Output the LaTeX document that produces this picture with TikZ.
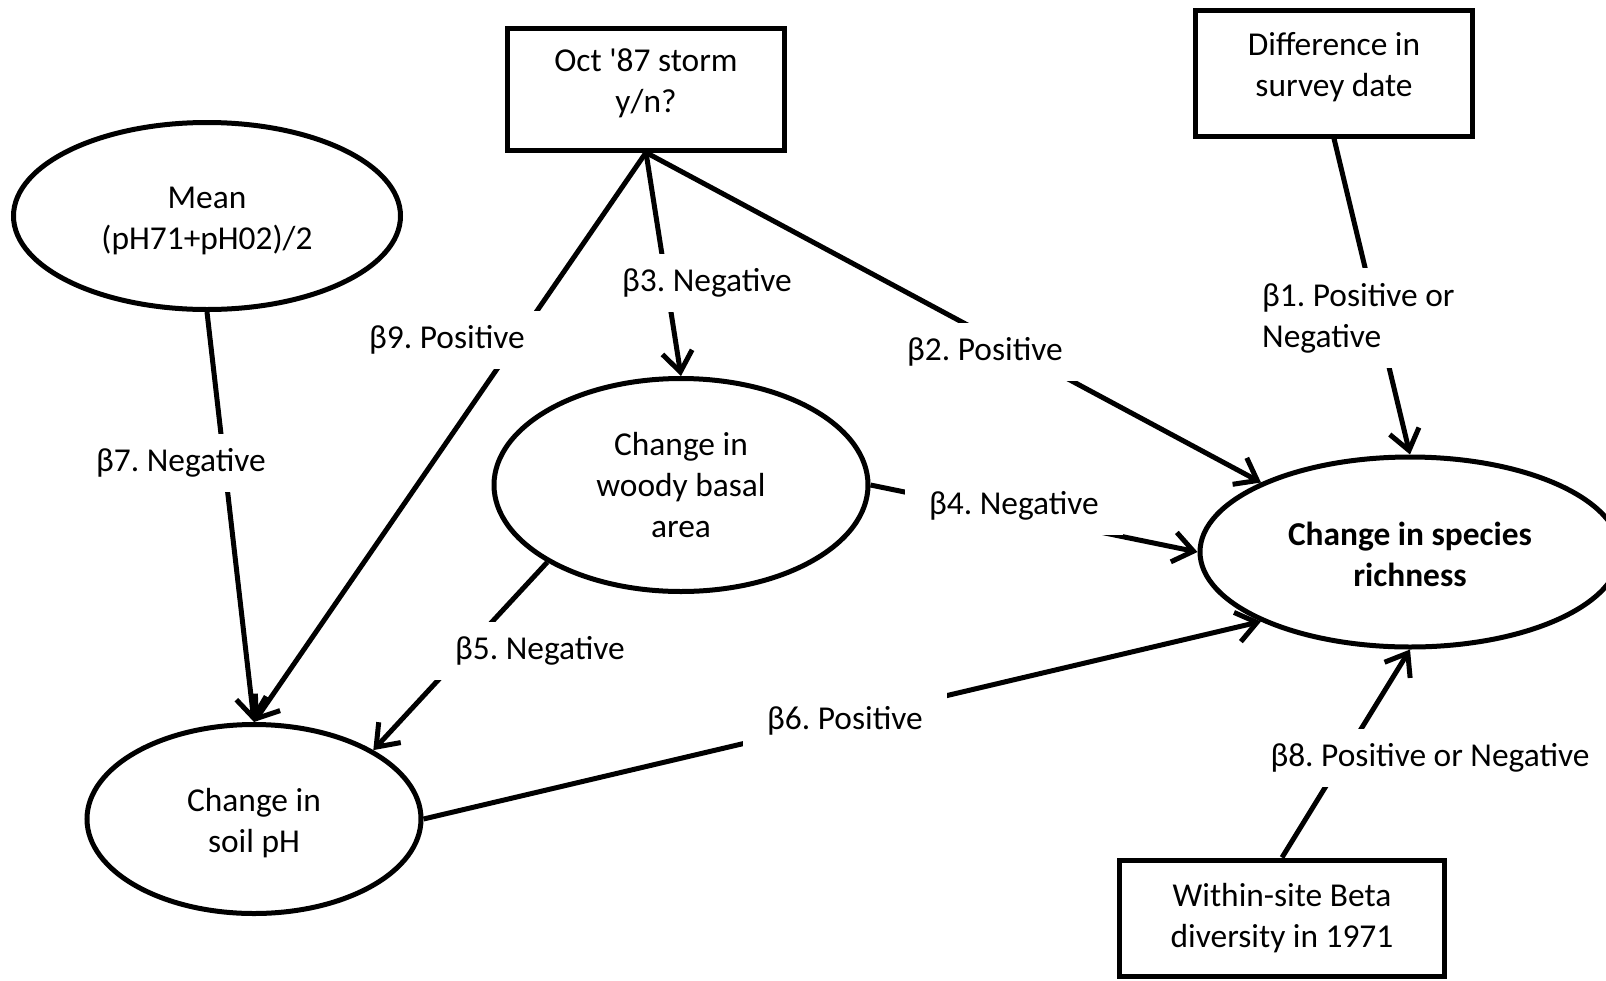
\documentclass[tikz,border=0pt]{standalone}
\usepackage{fontspec}
\setmainfont{Carlito}
\usetikzlibrary{shapes.geometric,arrows.meta}
\frenchspacing
\begin{document}
\begin{tikzpicture}[x=1pt,y=-1pt,
  every node/.style={font=\fontsize{33.4}{41}\selectfont, align=center, inner sep=0pt},
  boxn/.style={draw, line width=5pt, rectangle},
  elln/.style={draw, line width=5pt, ellipse},
  lab/.style={fill=white, inner xsep=24pt, inner ysep=15pt},
  conn/.style={line width=5pt, -{Straight Barb[length=20pt,width=30pt]}}
]
\useasboundingbox (0,0) rectangle (1606,980);
\clip (0,0) rectangle (1606,980);

% boxes
\node[boxn, minimum width=277pt, minimum height=122pt] (oct) at (646,89) {Oct \textquotesingle 87 storm\\y/n?\rule[-17pt]{0pt}{0pt}};
\node[boxn, minimum width=277pt, minimum height=126pt] (diff) at (1334,73) {Difference in\\survey date\rule[-17pt]{0pt}{0pt}};
\node[boxn, minimum width=325pt, minimum height=116pt] (within) at (1282,918) {Within-site Beta\\diversity in 1971};

% ellipses
\node[elln, minimum width=387pt, minimum height=187pt] (mean) at (207,216) {\rule{0pt}{32pt}Mean\\(pH71+pH02)/2};
\node[elln, minimum width=374pt, minimum height=213pt] (woody) at (681,485) {Change in\\woody basal\\area};
\node[elln, minimum width=334pt, minimum height=189pt] (soil) at (254,819) {\rule{0pt}{31pt}Change in\\soil pH};
\node[elln, minimum width=420pt, minimum height=190pt, font={\fontsize{33.4}{41}\selectfont\bfseries}] (species) at (1410,552) {\rule{0pt}{28pt}Change in species\\richness};

% connectors
\draw[conn] (oct.south) -- (woody.north);
\draw[conn] (oct.south) -- (soil.north);
\draw[conn] (oct.south) -- (species.155);
\draw[conn] (diff.south) -- (species.north);
\draw[conn] (mean.south) -- (soil.north);
\draw[conn] (woody.east) -- (species.west);
\draw[conn] (woody.210) -- (soil.30);
\draw[conn] (soil.east) -- (species.205);
\draw[conn] (within.north) -- (species.south);

% labels
\node[lab] (l3) at (707,283) {β3. Negative};
\node[lab] (l9) at (447,340) {β9. Positive};
\node[lab] (l2) at (985,352) {β2. Positive};
\node[lab, anchor=west, align=left] (l1) at (1238,318) {β1. Positive or\\Negative};
\node[lab] (l7) at (181,463) {β7. Negative};
\node[lab] (l4) at (1014,506) {β4. Negative};
\node[lab] (l5) at (540,651) {β5. Negative};
\node[lab] (l6) at (845,721) {β6. Positive};
\node[lab] (l8) at (1430,758) {β8. Positive or Negative};
\end{tikzpicture}
\end{document}
